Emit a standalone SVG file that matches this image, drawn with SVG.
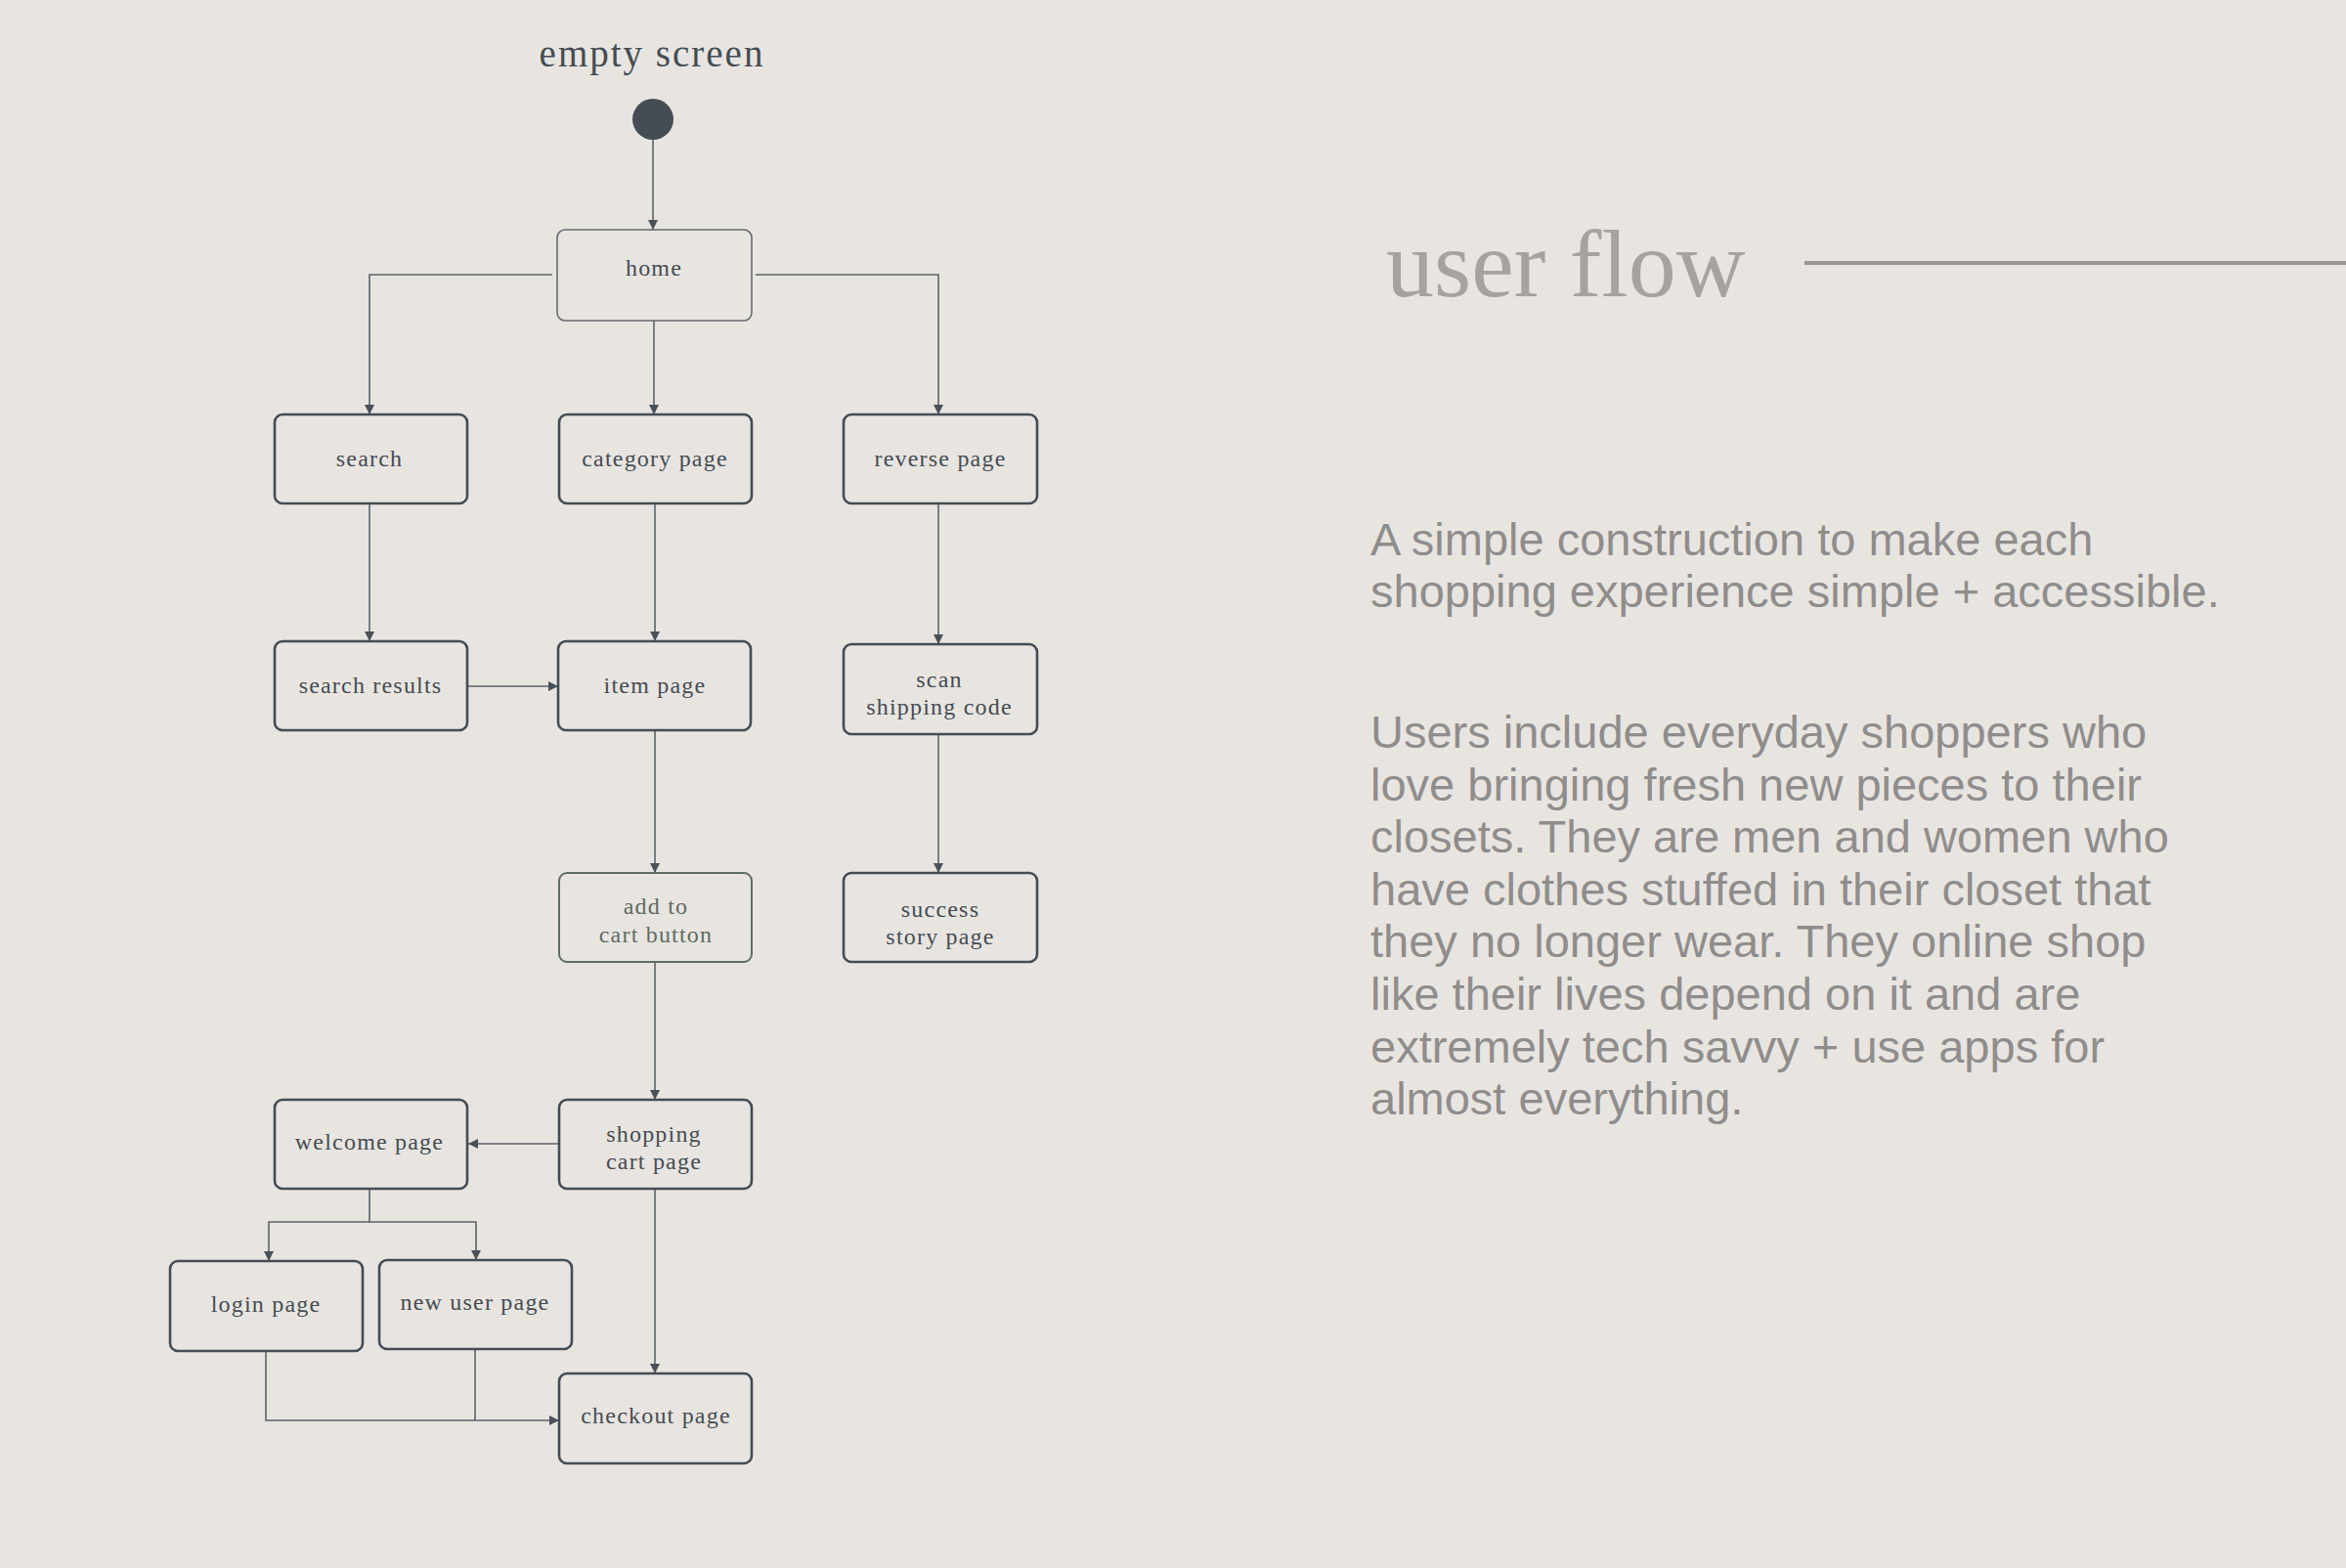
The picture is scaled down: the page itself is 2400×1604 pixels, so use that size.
<svg xmlns="http://www.w3.org/2000/svg" width="2400" height="1604" viewBox="0 0 2400 1604">
<style>
.bg{fill:#e8e5e1}
.node rect{fill:none;stroke:#454c53;stroke-width:2.6}
.node text{font-family:"Liberation Serif","DejaVu Serif",serif;font-size:24px;letter-spacing:1.2px;fill:#454c53;text-anchor:middle}
#n-home rect{stroke:#656a70;stroke-width:1.6}
#n-addcart rect{stroke:#5f6c63;stroke-width:2}
#n-addcart text{fill:#606b63}
.conn path{fill:none;stroke:#5c6268;stroke-width:1.6}
.title{font-family:"Liberation Serif","DejaVu Serif",serif;font-size:98px;fill:#a8a29f}
.body{font-family:"Liberation Sans","Noto Sans",sans-serif;font-size:47px;fill:#8f8d8c}
.start{font-family:"Liberation Serif","DejaVu Serif",serif;font-size:39px;letter-spacing:2px;fill:#454c53;text-anchor:middle}
</style>
<defs>
<marker id="arr" viewBox="0 0 10 10" refX="10" refY="5" markerWidth="11" markerHeight="10" markerUnits="userSpaceOnUse" orient="auto">
<path d="M0,0 L10,5 L0,10 z" fill="#4a5057"/>
</marker>
</defs>
<rect class="bg" x="0" y="0" width="2400" height="1604"/>

<g id="start">
<text class="start" x="667" y="68">empty screen</text>
<circle cx="668" cy="122" r="21" fill="#454c53"/>
</g>

<g id="connectors" class="conn">
<path d="M668 143 V235" marker-end="url(#arr)"/>
<path d="M565 281 H378 V424" marker-end="url(#arr)"/>
<path d="M669 328 V424" marker-end="url(#arr)"/>
<path d="M773 281 H960 V424" marker-end="url(#arr)"/>
<path d="M378 515 V656" marker-end="url(#arr)"/>
<path d="M670 515 V656" marker-end="url(#arr)"/>
<path d="M960 515 V659" marker-end="url(#arr)"/>
<path d="M478 702 H571" marker-end="url(#arr)"/>
<path d="M670 747 V893" marker-end="url(#arr)"/>
<path d="M960 751 V893" marker-end="url(#arr)"/>
<path d="M670 984 V1125" marker-end="url(#arr)"/>
<path d="M572 1170 H479" marker-end="url(#arr)"/>
<path d="M378 1216 V1250 H275 V1290" marker-end="url(#arr)"/>
<path d="M378 1250 H487 V1289" marker-end="url(#arr)"/>
<path d="M670 1216 V1405" marker-end="url(#arr)"/>
<path d="M272 1382 V1453 H572" marker-end="url(#arr)"/>
<path d="M486 1380 V1453"/>
</g>

<g id="n-home" class="node"><rect x="570" y="235" width="199" height="93" rx="8"/><text x="669" y="282">home</text></g>
<g id="n-search" class="node"><rect x="281" y="424" width="197" height="91" rx="8"/><text x="378" y="477">search</text></g>
<g id="n-category" class="node"><rect x="572" y="424" width="197" height="91" rx="8"/><text x="670" y="477">category page</text></g>
<g id="n-reverse" class="node"><rect x="863" y="424" width="198" height="91" rx="8"/><text x="962" y="477">reverse page</text></g>
<g id="n-results" class="node"><rect x="281" y="656" width="197" height="91" rx="8"/><text x="379" y="709">search results</text></g>
<g id="n-item" class="node"><rect x="571" y="656" width="197" height="91" rx="8"/><text x="670" y="709">item page</text></g>
<g id="n-scan" class="node"><rect x="863" y="659" width="198" height="92" rx="8"/><text x="961" y="703">scan</text><text x="961" y="731">shipping code</text></g>
<g id="n-addcart" class="node"><rect x="572" y="893" width="197" height="91" rx="8"/><text x="671" y="935">add to</text><text x="671" y="964">cart button</text></g>
<g id="n-success" class="node"><rect x="863" y="893" width="198" height="91" rx="8"/><text x="962" y="938">success</text><text x="962" y="966">story page</text></g>
<g id="n-welcome" class="node"><rect x="281" y="1125" width="197" height="91" rx="8"/><text x="378" y="1176">welcome page</text></g>
<g id="n-cart" class="node"><rect x="572" y="1125" width="197" height="91" rx="8"/><text x="669" y="1168">shopping</text><text x="669" y="1196">cart page</text></g>
<g id="n-login" class="node"><rect x="174" y="1290" width="197" height="92" rx="8"/><text x="272" y="1342">login page</text></g>
<g id="n-newuser" class="node"><rect x="388" y="1289" width="197" height="91" rx="8"/><text x="486" y="1340">new user page</text></g>
<g id="n-checkout" class="node"><rect x="572" y="1405" width="197" height="92" rx="8"/><text x="671" y="1456">checkout page</text></g>

<g id="heading">
<text class="title" x="1418" y="303">user flow</text>
<line x1="1846" y1="269" x2="2400" y2="269" stroke="#9b9795" stroke-width="4"/>
</g>

<g id="description">
<text class="body" x="1402" y="568">A simple construction to make each</text>
<text class="body" x="1402" y="621">shopping experience simple + accessible.</text>
<text class="body" x="1402" y="765">Users include everyday shoppers who</text>
<text class="body" x="1402" y="819">love bringing fresh new pieces to their</text>
<text class="body" x="1402" y="872">closets. They are men and women who</text>
<text class="body" x="1402" y="926">have clothes stuffed in their closet that</text>
<text class="body" x="1402" y="979">they no longer wear. They online shop</text>
<text class="body" x="1402" y="1033">like their lives depend on it and are</text>
<text class="body" x="1402" y="1087">extremely tech savvy + use apps for</text>
<text class="body" x="1402" y="1140">almost everything.</text>
</g>
</svg>
